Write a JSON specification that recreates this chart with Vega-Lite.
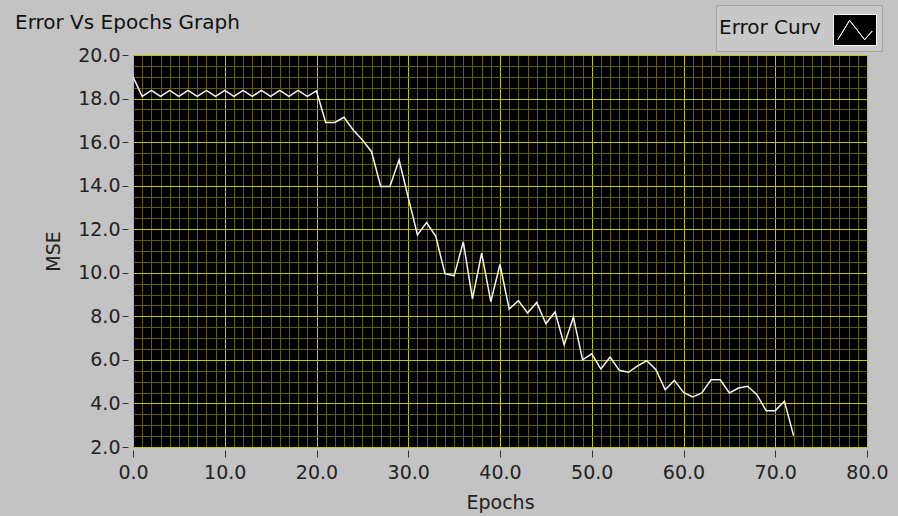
{
  "$schema": "https://vega.github.io/schema/vega-lite/v6.json",
  "width": 734,
  "height": 392,
  "autosize": {"type": "none"},
  "padding": {"left": 133, "top": 55, "right": 31, "bottom": 69},
  "background": "#c3c3c3",
  "config": {
    "view": {"fill": "#000000", "stroke": "#8c8c8c", "strokeWidth": 1},
    "font": "DejaVu Sans"
  },
  "title": {
    "text": "Error Vs Epochs Graph",
    "anchor": "start",
    "frame": "group",
    "dx": -118,
    "dy": 30,
    "offset": 2,
    "fontSize": 20,
    "font": "DejaVu Sans",
    "fontWeight": "normal",
    "color": "#111111"
  },
  "data": {
    "values": [
      {"epoch": 0, "mse": 19.0}, {"epoch": 1, "mse": 18.1}, {"epoch": 2, "mse": 18.38}, {"epoch": 3, "mse": 18.1},
      {"epoch": 4, "mse": 18.38}, {"epoch": 5, "mse": 18.1}, {"epoch": 6, "mse": 18.38}, {"epoch": 7, "mse": 18.1},
      {"epoch": 8, "mse": 18.38}, {"epoch": 9, "mse": 18.1}, {"epoch": 10, "mse": 18.38}, {"epoch": 11, "mse": 18.1},
      {"epoch": 12, "mse": 18.38}, {"epoch": 13, "mse": 18.1}, {"epoch": 14, "mse": 18.38}, {"epoch": 15, "mse": 18.1},
      {"epoch": 16, "mse": 18.38}, {"epoch": 17, "mse": 18.1}, {"epoch": 18, "mse": 18.38}, {"epoch": 19, "mse": 18.1},
      {"epoch": 20, "mse": 18.35}, {"epoch": 21, "mse": 16.9}, {"epoch": 22, "mse": 16.9}, {"epoch": 23, "mse": 17.14},
      {"epoch": 24, "mse": 16.56}, {"epoch": 25, "mse": 16.1}, {"epoch": 26, "mse": 15.56}, {"epoch": 27, "mse": 13.96},
      {"epoch": 28, "mse": 13.96}, {"epoch": 29, "mse": 15.18}, {"epoch": 30, "mse": 13.45}, {"epoch": 31, "mse": 11.74},
      {"epoch": 32, "mse": 12.31}, {"epoch": 33, "mse": 11.67}, {"epoch": 34, "mse": 9.96}, {"epoch": 35, "mse": 9.86},
      {"epoch": 36, "mse": 11.42}, {"epoch": 37, "mse": 8.8}, {"epoch": 38, "mse": 10.9}, {"epoch": 39, "mse": 8.68},
      {"epoch": 40, "mse": 10.38}, {"epoch": 41, "mse": 8.33}, {"epoch": 42, "mse": 8.72}, {"epoch": 43, "mse": 8.15},
      {"epoch": 44, "mse": 8.64}, {"epoch": 45, "mse": 7.66}, {"epoch": 46, "mse": 8.2}, {"epoch": 47, "mse": 6.7},
      {"epoch": 48, "mse": 7.97}, {"epoch": 49, "mse": 6.0}, {"epoch": 50, "mse": 6.28}, {"epoch": 51, "mse": 5.58},
      {"epoch": 52, "mse": 6.13}, {"epoch": 53, "mse": 5.52}, {"epoch": 54, "mse": 5.43}, {"epoch": 55, "mse": 5.73},
      {"epoch": 56, "mse": 5.96}, {"epoch": 57, "mse": 5.55}, {"epoch": 58, "mse": 4.63}, {"epoch": 59, "mse": 5.06},
      {"epoch": 60, "mse": 4.51}, {"epoch": 61, "mse": 4.3}, {"epoch": 62, "mse": 4.48}, {"epoch": 63, "mse": 5.09},
      {"epoch": 64, "mse": 5.09}, {"epoch": 65, "mse": 4.48}, {"epoch": 66, "mse": 4.71}, {"epoch": 67, "mse": 4.79},
      {"epoch": 68, "mse": 4.4}, {"epoch": 69, "mse": 3.67}, {"epoch": 70, "mse": 3.67}, {"epoch": 71, "mse": 4.1},
      {"epoch": 72, "mse": 2.52}
    ]
  },
  "mark": {"type": "line", "strokeWidth": 1.5, "clip": true},
  "encoding": {
    "x": {
      "field": "epoch", "type": "quantitative",
      "scale": {"domain": [0, 80], "nice": false, "zero": false},
      "axis": {
        "orient": "bottom", "title": "Epochs",
        "values": [0,1,2,3,4,5,6,7,8,9,10,11,12,13,14,15,16,17,18,19,20,21,22,23,24,25,26,27,28,29,30,31,32,33,34,35,36,37,38,39,40,41,42,43,44,45,46,47,48,49,50,51,52,53,54,55,56,57,58,59,60,61,62,63,64,65,66,67,68,69,70,71,72,73,74,75,76,77,78,79,80],
        "labelExpr": "datum.value % 10 === 0 ? format(datum.value, '.1f') : ''",
        "grid": true, "gridWidth": 1, "gridOpacity": 1,
        "gridColor": {"condition": {"test": "datum.value % 10 === 0", "value": "#c4c400"}, "value": "#5e5e00"},
        "domain": false, "ticks": true, "tickSize": 7, "tickColor": "#333333", "tickWidth": 1, "offset": 3,
        "tickOpacity": {"condition": {"test": "datum.value % 10 === 0", "value": 1}, "value": 0},
        "labelFontSize": 19, "labelFont": "DejaVu Sans", "labelColor": "#222222", "labelPadding": 6,
        "labelFlush": false, "labelOverlap": false, "labelBound": false,
        "titleFontSize": 19, "titleFont": "DejaVu Sans", "titleFontWeight": "normal", "titleColor": "#222222", "titlePadding": 11
      }
    },
    "y": {
      "field": "mse", "type": "quantitative",
      "scale": {"domain": [2, 20], "nice": false, "zero": false},
      "axis": {
        "orient": "left", "title": "MSE",
        "values": [2,2.5,3,3.5,4,4.5,5,5.5,6,6.5,7,7.5,8,8.5,9,9.5,10,10.5,11,11.5,12,12.5,13,13.5,14,14.5,15,15.5,16,16.5,17,17.5,18,18.5,19,19.5,20],
        "labelExpr": "datum.value % 2 === 0 ? format(datum.value, '.1f') : ''",
        "grid": true, "gridWidth": 1, "gridOpacity": 1,
        "gridColor": {"condition": {"test": "datum.value % 2 === 0", "value": "#c4c400"}, "value": "#5e5e00"},
        "domain": false, "ticks": true, "tickSize": 6, "tickColor": "#333333", "tickWidth": 1, "offset": 5,
        "tickOpacity": {"condition": {"test": "datum.value % 2 === 0", "value": 1}, "value": 0},
        "labelFontSize": 19, "labelFont": "DejaVu Sans", "labelColor": "#222222", "labelPadding": 2,
        "labelFlush": false, "labelOverlap": false,
        "titleFontSize": 19, "titleFont": "DejaVu Sans", "titleFontWeight": "normal", "titleColor": "#222222", "titlePadding": 14
      }
    },
    "color": {
      "datum": "Error Curv",
      "scale": {"range": ["#f4f4f4"]},
      "legend": {
        "orient": "none", "legendX": 583, "legendY": -50,
        "title": "Error Curv", "titleOrient": "left", "titleFontSize": 20, "titleFont": "DejaVu Sans",
        "titleFontWeight": "normal", "titleColor": "#111111", "titlePadding": 12,
        "labelExpr": "''", "labelOffset": 0, "labelFontSize": 1,
        "symbolType": "M-1,-0.72H1V0.72H-1Z M-0.8,0.45L-0.25,-0.45L0.45,0.45L0.8,0.05L0.45,0.45L-0.25,-0.45Z",
        "symbolSize": 1849, "symbolStrokeWidth": 1,
        "fillColor": "#c8c8c8", "strokeColor": "#a4a4a4", "padding": 3,
        "encode": {"symbols": {"update": {"fill": {"value": "#000000"}, "stroke": {"value": "#e8e8e8"}, "strokeWidth": {"value": 1}, "opacity": {"value": 1}}}}
      }
    }
  }
}
